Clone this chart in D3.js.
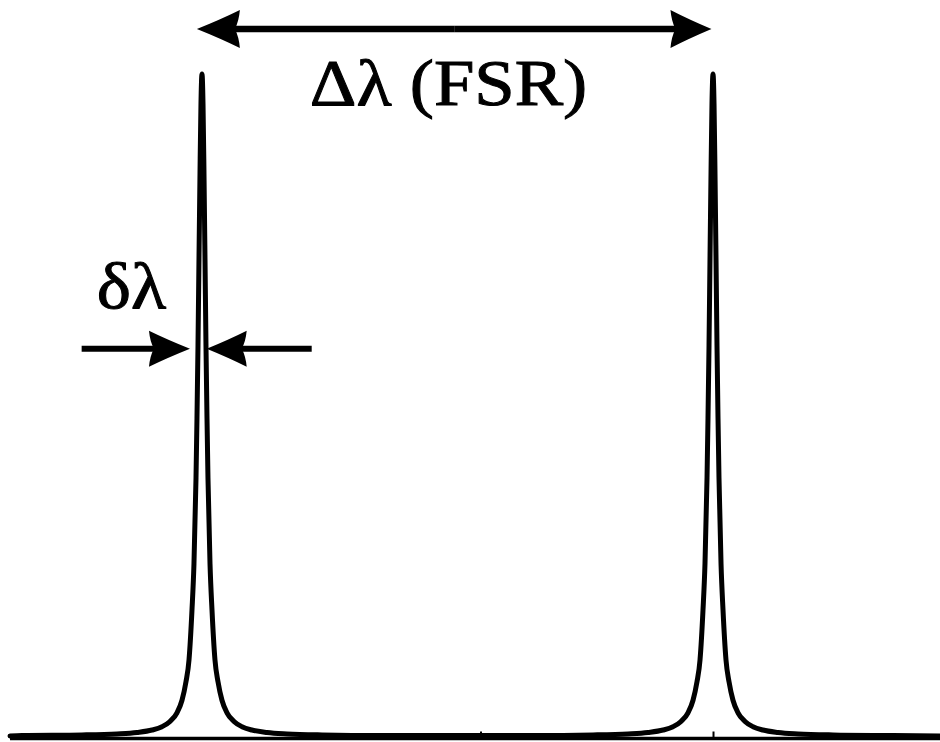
<!DOCTYPE html>
<html>
<head>
<meta charset="utf-8">
<script src="https://cdn.jsdelivr.net/npm/d3@7"></script>
<style>
  html, body { margin: 0; padding: 0; background: #fff; }
  svg { display: block; }
</style>
</head>
<body>
<script>
// Transmission of a Fabry-Perot resonator: two adjacent orders one FSR apart.
// Wavelength is expressed in units of the free spectral range, relative to the first peak.
const peakCenters = [0, 1];

// One-sided line profile of a resonance: offset from the peak centre (FSR units) and normalised transmission.
const profileOffset = [0, 0.002, 0.0039, 0.0059, 0.0078, 0.0098, 0.0117, 0.0157, 0.0196, 0.0254, 0.0313,
                       0.0391, 0.0489, 0.0626, 0.0783, 0.0978, 0.1272, 0.1663, 0.2348, 0.3523];
const profileT      = [1.0, 0.955, 0.85, 0.72, 0.59, 0.48, 0.39, 0.26, 0.19, 0.115, 0.082,
                       0.054, 0.035, 0.022, 0.014, 0.009, 0.0054, 0.0032, 0.0016, 0.0007];

const lambdaRange = [-0.3757, 1.4442];
const tickValues = [0.545, 1.0];

// Annotations: the FSR span above the peaks and the linewidth marker on the first peak.
const fsrSpan = [-0.01, 0.997];
const fsrLevel = 1.068;
const fsrLabel = { text: "Δλ (FSR)", lambda: 0.4824, T: 0.953 };
const fwhmTips = [-0.0235, 0.0092];
const fwhmTails = [-0.2355, 0.2147];
const fwhmLevel = 0.585;
const fwhmLabel = { text: "δλ", lambda: -0.138, T: 0.6465 };

const W = 940, H = 742;
const svg = d3.select("body").append("svg").attr("width", W).attr("height", H);

const x = d3.scaleLinear().domain(lambdaRange).range([10, 940]);
const y = d3.scaleLinear().domain([0, 1]).range([736, 74]);

// Assemble the full spectrum from the line profile around each centre.
const pts = [{ l: lambdaRange[0], t: 0 }];
peakCenters.forEach(c => {
  for (let i = profileOffset.length - 1; i > 0; i--) pts.push({ l: c - profileOffset[i], t: profileT[i] });
  pts.push({ l: c, t: profileT[0] });
  for (let i = 1; i < profileOffset.length; i++) pts.push({ l: c + profileOffset[i], t: profileT[i] });
});
pts.push({ l: lambdaRange[1], t: 0 });

// Horizontal wavelength axis along the bottom
const axis = d3.axisTop(x).tickValues(tickValues).tickSize(7).tickFormat("");
const gAxis = svg.append("g").attr("transform", `translate(0,${738.5})`).call(axis);
gAxis.select(".domain").attr("stroke", "#000").attr("stroke-width", 3.5)
  .attr("d", `M${x(lambdaRange[0])},0H${x(lambdaRange[1])}`);
gAxis.selectAll(".tick line").attr("stroke", "#000").attr("stroke-width", 2);

// Spectrum curve
const line = d3.line().x(d => x(d.l)).y(d => y(d.t)).curve(d3.curveMonotoneX);
svg.append("path").datum(pts).attr("d", line)
  .attr("fill", "none").attr("stroke", "#000").attr("stroke-width", 5)
  .attr("stroke-linejoin", "round").attr("stroke-linecap", "round");

// Arrow drawing: a shaft plus a swept (concave-backed) arrowhead.
function arrowHead(tx, ty, dir, L, Hh, notch) {
  const bx = tx - dir * L;
  const p = d3.path();
  p.moveTo(tx, ty);
  p.quadraticCurveTo(tx - dir * L * 0.55, ty - Hh * 0.5, bx, ty - Hh);
  p.quadraticCurveTo(bx + dir * notch * 0.2, ty - Hh * 0.4, bx + dir * notch, ty);
  p.quadraticCurveTo(bx + dir * notch * 0.2, ty + Hh * 0.4, bx, ty + Hh);
  p.quadraticCurveTo(tx - dir * L * 0.55, ty + Hh * 0.5, tx, ty);
  p.closePath();
  return p.toString();
}
function arrow(g, x0, x1, yy, L, Hh, sw) {
  const dir = x1 > x0 ? 1 : -1;
  g.append("line").attr("x1", x0).attr("x2", x1 - dir * (L - 6)).attr("y1", yy).attr("y2", yy)
    .attr("stroke", "#000").attr("stroke-width", sw);
  g.append("path").attr("d", arrowHead(x1, yy, dir, L, Hh, 5)).attr("fill", "#000");
}

const ann = svg.append("g");
// FSR double arrow
const fy = y(fsrLevel);
const fMid = (x(fsrSpan[0]) + x(fsrSpan[1])) / 2;
arrow(ann, fMid, x(fsrSpan[0]), fy, 43, 19, 6.5);
arrow(ann, fMid, x(fsrSpan[1]), fy, 41, 19, 6.5);

// Linewidth arrows pointing at the first peak
const wy = y(fwhmLevel);
arrow(ann, x(fwhmTails[0]), x(fwhmTips[0]), wy, 41, 18, 6);
arrow(ann, x(fwhmTails[1]), x(fwhmTips[1]), wy, 40, 18, 6);

// Labels
function label(d) {
  const cx = x(d.lambda), cy = y(d.T);
  ann.append("text")
    .attr("transform", `translate(${cx},${cy}) scale(1.1,1)`)
    .attr("text-anchor", "middle")
    .attr("font-family", "Liberation Serif")
    .attr("font-size", 66)
    .attr("fill", "#000")
    .attr("stroke", "#000")
    .attr("stroke-width", 1)
    .text(d.text);
}
label(fsrLabel);
label(fwhmLabel);
</script>
</body>
</html>
